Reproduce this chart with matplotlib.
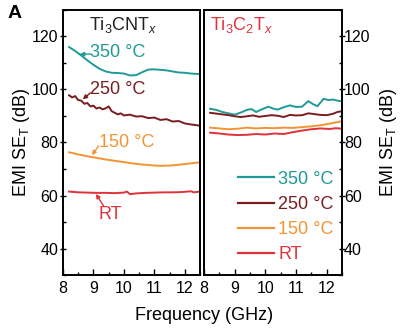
import matplotlib
matplotlib.use('Agg')
import matplotlib.pyplot as plt
from matplotlib.ticker import MultipleLocator

plt.rcParams['font.family'] = ['Liberation Sans', 'DejaVu Sans']
plt.rcParams['mathtext.fontset'] = 'custom'
plt.rcParams['mathtext.rm'] = 'Liberation Sans'
plt.rcParams['mathtext.it'] = 'Liberation Sans:italic'

# colours
c350 = '#1f9a96'
c250 = '#7a1c20'
c150 = '#f39433'
cRT = '#e0323a'

# left panel, Ti3CNTx
f350_l = [8.2, 8.4, 8.6, 8.8, 9.0, 9.2, 9.4, 9.6, 9.8, 10.0, 10.2, 10.4, 10.6,
          10.8, 11.0, 11.2, 11.4, 11.6, 11.8, 12.0, 12.2, 12.5]
v350_l = [116.0, 114.5, 112.8, 111.0, 109.3, 107.8, 106.8, 106.3, 106.2, 106.0,
          105.3, 105.4, 106.5, 107.5, 107.6, 107.4, 107.2, 106.8, 106.4, 106.3,
          106.0, 105.8]
f250_l = [8.2, 8.3, 8.4, 8.5, 8.6, 8.7, 8.8, 8.9, 9.0, 9.1, 9.2, 9.3, 9.4, 9.5,
          9.6, 9.7, 9.8, 9.9, 10.0, 10.2, 10.4, 10.6, 10.8, 11.0, 11.2, 11.4,
          11.6, 11.8, 12.0, 12.2, 12.4, 12.5]
v250_l = [97.8, 97.0, 97.5, 96.0, 95.8, 94.6, 94.9, 93.6, 93.9, 92.8, 93.2, 92.5,
          92.9, 93.6, 91.8, 91.2, 90.6, 91.0, 90.2, 90.5, 89.8, 89.9, 89.2, 89.4,
          88.5, 88.8, 87.9, 88.1, 87.2, 86.8, 86.5, 86.3]
f150_l = [8.2, 8.5, 8.8, 9.1, 9.4, 9.7, 10.0, 10.3, 10.6, 10.9, 11.2, 11.5,
          11.8, 12.1, 12.5]
v150_l = [76.3, 75.5, 74.8, 74.2, 73.6, 73.1, 72.6, 72.1, 71.7, 71.4, 71.2, 71.3,
          71.6, 72.0, 72.5]
fRT_l = [8.2, 8.5, 8.8, 9.1, 9.4, 9.7, 10.0, 10.1, 10.2, 10.4, 10.7, 11.0, 11.3,
         11.6, 11.9, 12.2, 12.3, 12.5]
vRT_l = [61.5, 61.2, 61.1, 61.0, 61.0, 60.9, 61.1, 61.5, 60.5, 60.8, 61.0, 61.1,
         61.2, 61.2, 61.3, 61.6, 61.2, 61.5]

# right panel, Ti3C2Tx
f350_r = [8.2, 8.4, 8.6, 8.8, 9.0, 9.2, 9.4, 9.55, 9.7, 9.9, 10.1, 10.25, 10.4,
          10.6, 10.8, 11.0, 11.2, 11.4, 11.55, 11.7, 11.9, 12.05, 12.2, 12.35, 12.5]
v350_r = [92.7, 92.3, 91.5, 91.0, 90.5, 91.3, 92.3, 92.6, 91.5, 92.6, 93.5, 92.8,
          92.4, 93.3, 94.0, 93.4, 93.5, 95.6, 94.5, 93.7, 96.5, 96.0, 96.2, 95.8,
          95.5]
f250_r = [8.2, 8.4, 8.6, 8.8, 9.0, 9.2, 9.4, 9.6, 9.8, 10.0, 10.2, 10.4, 10.6,
          10.8, 11.0, 11.2, 11.4, 11.6, 11.8, 12.0, 12.2, 12.35, 12.5]
v250_r = [91.2, 90.9, 90.6, 90.3, 89.9, 89.6, 89.9, 90.2, 89.7, 90.0, 90.3, 90.1,
          89.6, 90.4, 90.2, 90.3, 91.0, 90.7, 90.4, 90.3, 90.8, 91.5, 91.8]
f150_r = [8.2, 8.5, 8.8, 9.1, 9.4, 9.7, 10.0, 10.3, 10.6, 10.9, 11.2, 11.5, 11.8,
          12.1, 12.3, 12.5]
v150_r = [85.6, 85.3, 85.0, 85.2, 85.6, 85.3, 85.5, 85.4, 85.6, 85.5, 85.8, 86.1,
          86.5, 87.1, 87.6, 88.0]
fRT_r = [8.2, 8.5, 8.8, 9.1, 9.4, 9.7, 10.0, 10.3, 10.6, 10.9, 11.2, 11.5, 11.8,
         12.1, 12.3, 12.5]
vRT_r = [83.7, 83.4, 83.0, 82.8, 82.9, 83.2, 83.0, 83.4, 83.2, 83.9, 84.5, 85.0,
         85.3, 85.1, 85.4, 85.2]

labels = ['350 °C', '250 °C', '150 °C', 'RT']
colors = [c350, c250, c150, cRT]
ylabel = r'EMI SE$_\mathrm{T}$ (dB)'
fs_tick = 11.5
fs = 13


def style_axis(ax, side):
    ax.set_xlim(8, 12.5)
    ax.set_ylim(30, 130)
    ax.xaxis.set_major_locator(MultipleLocator(1))
    ax.xaxis.set_minor_locator(MultipleLocator(0.5))
    ax.yaxis.set_major_locator(MultipleLocator(20))
    ax.yaxis.set_minor_locator(MultipleLocator(10))
    for sp in ax.spines.values():
        sp.set_linewidth(1.4)
    ax.tick_params(axis='x', which='major', direction='in', length=4, width=1,
                   labelsize=fs_tick, pad=4)
    ax.tick_params(axis='x', which='minor', direction='in', length=2.5, width=1)
    left = side == 'left'
    ax.tick_params(axis='y', which='both', left=left, right=not left,
                   labelleft=left, labelright=not left, labelsize=fs_tick)
    ax.tick_params(axis='y', which='major', direction='inout', length=5, width=1,
                   pad=1 if left else -1)
    ax.tick_params(axis='y', which='minor', direction='in', length=2.5, width=1)


fig = plt.figure(figsize=(4.0, 3.31), dpi=100)
ax1 = fig.add_axes([0.1575, 0.169, 0.3425, 0.801])
ax2 = fig.add_axes([0.51, 0.169, 0.345, 0.801])

left_data = [(f350_l, v350_l), (f250_l, v250_l), (f150_l, v150_l), (fRT_l, vRT_l)]
right_data = [(f350_r, v350_r), (f250_r, v250_r), (f150_r, v150_r), (fRT_r, vRT_r)]

for (f, v), c in zip(left_data, colors):
    ax1.plot(f, v, color=c, lw=1.4)
for (f, v), c, lab in zip(right_data, colors, labels):
    ax2.plot(f, v, color=c, lw=1.4, label=lab)

style_axis(ax1, 'left')
style_axis(ax2, 'right')

ax1.set_ylabel(ylabel, fontsize=fs, labelpad=0)
ax2.set_ylabel(ylabel, fontsize=fs, labelpad=5)
ax2.yaxis.set_label_position('right')

# curve annotations on the left panel: text, arrow tip, text position, rel. start
notes = [('350 °C', (8.55, 113.3), (8.9, 114.0), (0.0, 0.4), c350),
         ('250 °C', (8.65, 96.3), (8.9, 100.0), (0.0, 0.3), c250),
         ('150 °C', (8.95, 75.2), (9.17, 80.0), (0.0, 0.3), c150),
         ('RT', (9.08, 60.6), (9.15, 53.0), (0.25, 0.95), cRT)]
for text, tip, pos, rel, c in notes:
    ax1.annotate(text, xy=tip, xytext=pos, color=c, fontsize=fs,
                 va='center', ha='left',
                 arrowprops=dict(arrowstyle='-|>', color=c, lw=1,
                                 mutation_scale=6, shrinkA=0, shrinkB=0,
                                 patchA=None, relpos=rel))

ax1.text(0.44, 0.945, r'Ti$_3$CNT$_x$', transform=ax1.transAxes, ha='center',
         va='center', fontsize=fs, color='#222222')
ax2.text(0.04, 0.945, r'Ti$_3$C$_2$T$_x$', transform=ax2.transAxes, ha='left',
         va='center', fontsize=fs, color=cRT)

leg = ax2.legend(loc='lower right', frameon=False, fontsize=fs,
                 handlelength=2.0, handletextpad=0.25, labelspacing=0.45,
                 borderaxespad=0.0, borderpad=0.0, bbox_to_anchor=(0.94, 0.045))
for txt, c in zip(leg.get_texts(), colors):
    txt.set_color(c)
for line in leg.get_lines():
    line.set_linewidth(1.6)

fig.text(0.018, 0.985, 'A', fontsize=14, fontweight='bold', va='top')
fig.text(0.51, 0.048, 'Frequency (GHz)', fontsize=fs, ha='center', va='center')

fig.savefig('out.png', dpi=100)
